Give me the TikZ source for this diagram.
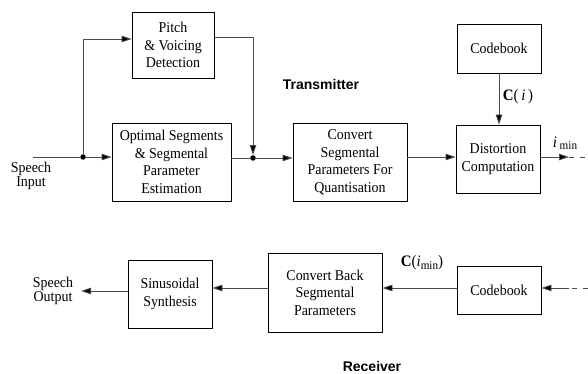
\documentclass[tikz,border=0pt]{standalone}
\usepackage{fontspec}
\setmainfont[FakeStretch=0.93]{Liberation Serif}
\newfontfamily\labfont{Liberation Sans}
\usetikzlibrary{arrows.meta,calc}
\tikzset{
  blk/.style={draw=black, line width=0.9pt, inner sep=0pt, align=center,
    font=\fontsize{15}{17.5}\selectfont},
  conn/.style={draw=black!70, line width=0.9pt},
  arr/.style={conn, -{Triangle[length=10pt,width=6.5pt,fill=black]}},
  dashline/.style={conn, dash pattern=on 5pt off 6pt},
  dot/.style={circle, fill=black, inner sep=0pt, minimum size=5.5pt},
  lab/.style={font=\fontsize{15}{13}\selectfont, align=center, inner sep=0pt},
  sect/.style={font=\labfont\bfseries\fontsize{14}{16}\selectfont, inner sep=0pt}
}
\begin{document}
\begin{tikzpicture}[x=1pt,y=-1pt]
\useasboundingbox (0,0) rectangle (588,374);
% transmitter blocks
\node[blk, minimum width=82pt, minimum height=66pt] (pitch) at (173,45) {Pitch\\\& Voicing\\Detection};
\node[blk, minimum width=119pt, minimum height=78pt] (opt) at (171.5,162) {Optimal Segments\\\& Segmental\\Parameter\\Estimation};
\node[blk, minimum width=114pt, minimum height=78pt] (conv) at (350,162) {Convert\\Segmental\\Parameters For\\Quantisation};
\node[blk, minimum width=84pt, minimum height=68pt] (dist) at (498,159) {Distortion\\Computation};
\node[blk, minimum width=84pt, minimum height=49pt] (cb1) at (499,48.5) {Codebook};
% receiver blocks
\node[blk, minimum width=84pt, minimum height=48pt] (cb2) at (499,290) {Codebook};
\node[blk, minimum width=114pt, minimum height=79pt] (back) at (325,292.5) {Convert Back\\Segmental\\Parameters};
\node[blk, minimum width=84pt, minimum height=68pt] (syn) at (170,294) {Sinusoidal\\Synthesis};
% labels
\node[lab] (sin) at (31,176) {Speech\\Input};
\node[lab] (sout) at (53,291) {Speech\\Output};
\node[sect] (tx) at (321,84) {Transmitter};
\node[sect] (rx) at (372,366) {Receiver};
\node[lab, font=\fontsize{16}{16}\selectfont] (ci) at (518,97) {\textbf{C}(\,\textit{i}\,)};
\node[lab, font=\fontsize{16}{16}\selectfont] (imin) at (565,143) {\textit{i}\,\raisebox{-0.35ex}{\fontsize{12}{12}\selectfont min}};
\node[lab, font=\fontsize{16}{16}\selectfont] (cimin) at (422,263) {\textbf{C}(\textit{i}\raisebox{-0.35ex}{\fontsize{12}{12}\selectfont min})};
% coordinates
\coordinate (in) at (33,157);
\node[dot] (d1) at (83,157) {};
\node[dot] (d2) at (253,158) {};
\coordinate (t1) at (569,157);
\coordinate (t2) at (588,157);
\coordinate (r1) at (588,288);
\coordinate (r2) at (569,288);
\coordinate (out) at (81,291);
% transmitter connectors
\draw[conn] (in) -- (d1);
\draw[arr] (d1) -- (d1 -| opt.west);
\draw[arr] (d1) |- ([yshift=6pt]pitch.west);
\draw[arr] ([yshift=8pt]pitch.east) -| (d2.north);
\draw[conn] (opt.east |- d2) -- (d2);
\draw[arr] (d2) -- (conv.west |- d2);
\draw[arr] (conv.east |- t1) -- (dist.west |- t1);
\draw[arr] (cb1.south) -- (dist.north -| cb1.south);
\draw[arr] (dist.east |- t1) -- (t1);
\draw[dashline] (t1) -- (t2);
% receiver connectors
\draw[dashline] (r1) -- (r2);
\draw[arr] (r2) -- (cb2.east |- r2);
\draw[arr] (cb2.west |- r2) -- (back.east |- r2);
\draw[arr] (back.west |- r2) -- (syn.east |- r2);
\draw[arr] (syn.west |- out) -- (out);
\end{tikzpicture}
\end{document}
